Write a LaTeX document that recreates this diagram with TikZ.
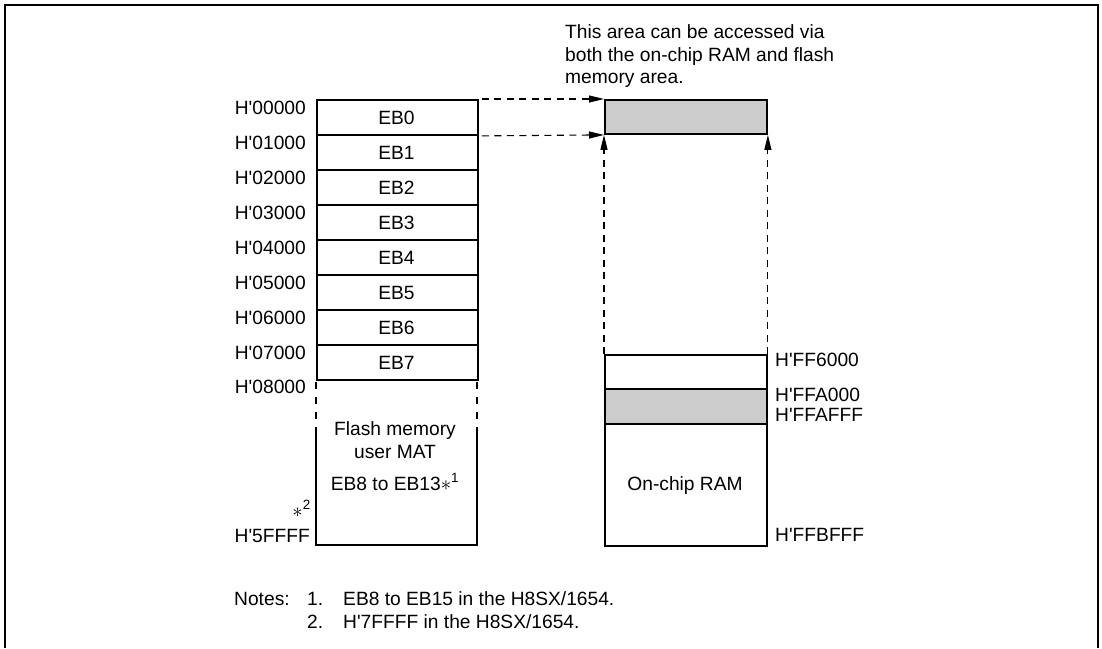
\documentclass[tikz,border=0pt]{standalone}
\usepackage{fontspec}
\setmainfont{Liberation Sans}
\usetikzlibrary{arrows.meta}
\newcommand{\hx}{H\textquotesingle}
\begin{document}
\begin{tikzpicture}[x=1pt,y=-1pt,
  font=\fontsize{19.2}{22.5}\selectfont,
  boxline/.style={draw, line width=1.9pt},
  lbl/.style={inner sep=0pt},
  dsh/.style={line width=1.1pt, dash pattern=on 7pt off 5.5pt},
  tip/.style={-{Triangle[length=15pt,width=7pt]}},
  shade/.style={fill=black!20}]
\useasboundingbox (0,0) rectangle (1102,648);
% frame
\draw[line width=2pt] (5,648) -- (5,5) -- (1098,5) -- (1098,648);

% flash blocks EB0..EB7
\foreach \i/\a in {0/00000,1/01000,2/02000,3/03000,4/04000,5/05000,6/06000,7/07000}{
  \node[boxline, minimum width=161pt, minimum height=35pt, inner sep=0pt, anchor=north west] (eb\i) at (316,{99+35*\i}) {};
  \node[lbl, anchor=base] (ebt\i) at (396.5,{124.5+35*\i}) {EB\i};
  \node[lbl, anchor=base east] (adr\i) at (306,{114.5+35*\i}) {\hx\a};
}
\node[lbl, anchor=base east] (adr8) at (306,393) {\hx 08000};

% lower flash area
\coordinate (fl1) at (316,379);
\coordinate (fl2) at (316,430);
\coordinate (fl3) at (316,545);
\coordinate (fl4) at (477,545);
\coordinate (fl5) at (477,430);
\coordinate (fl6) at (477,379);
\draw[line width=1.9pt, dash pattern=on 0pt off 3pt on 7pt off 5pt] (fl1) -- (fl2);
\draw[line width=1.9pt, dash pattern=on 0pt off 3pt on 7pt off 5pt] (fl6) -- (fl5);
\draw[line width=1.9pt] (fl2) -- (fl3) -- (fl4) -- (fl5);
\node[lbl, anchor=base] (fm1) at (395,435) {Flash memory};
\node[lbl, anchor=base] (fm2) at (395,458.3) {user MAT};
\node[lbl, anchor=base] (fm3) at (395,490) {EB8 to EB13$\ast$\textsuperscript{1}};
\node[lbl, anchor=base east] (st2) at (311,517) {$\ast$\textsuperscript{2}};
\node[lbl, anchor=base east] (adr9) at (310,542.7) {\hx 5FFFF};

% shared area
\node[boxline, shade, minimum width=162pt, minimum height=34pt, inner sep=0pt, anchor=north west] (shared) at (604,99) {};
\node[lbl, anchor=base west] (c1) at (565,38.3) {This area can be accessed via};
\node[lbl, anchor=base west] (c2) at (565,61.2) {both the on-chip RAM and flash};
\node[lbl, anchor=base west] (c3) at (565,83.5) {memory area.};

% RAM
\node[boxline, minimum width=162pt, minimum height=34pt, inner sep=0pt, anchor=north west] (ram1) at (604,354) {};
\node[boxline, shade, minimum width=162pt, minimum height=35pt, inner sep=0pt, anchor=north west] (ram2) at (604,388) {};
\node[boxline, minimum width=162pt, minimum height=122pt, inner sep=0pt, anchor=north west] (ram3) at (604,423) {};
\node[lbl, anchor=base] (ramt) at (685,490) {On-chip RAM};
\node[lbl, anchor=base west] (r1) at (775,366.7) {\hx FF6000};
\node[lbl, anchor=base west] (r2) at (775,401) {\hx FFA000};
\node[lbl, anchor=base west] (r3) at (775,421.7) {\hx FFAFFF};
\node[lbl, anchor=base west] (r4) at (775,541.7) {\hx FFBFFF};

% connectors
\draw[dsh, tip] ([xshift=3pt]eb0.north east) -- (shared.north west);
\draw[dsh, tip] ([xshift=3pt]eb0.south east) -- (shared.south west);
\draw[dsh, tip] (ram1.north west) -- (shared.south west);
\draw[dsh, tip] (ram1.north east) -- (shared.south east);

% notes
\node[lbl, anchor=base west] (n0) at (234,605.7) {Notes:};
\node[lbl, anchor=base west] (n1) at (307,605.7) {1.};
\node[lbl, anchor=base west] (n1t) at (343,605.7) {EB8 to EB15 in the H8SX/1654.};
\node[lbl, anchor=base west] (n2) at (307,628.3) {2.};
\node[lbl, anchor=base west] (n2t) at (343,628.3) {\hx 7FFFF in the H8SX/1654.};
\end{tikzpicture}
\end{document}
